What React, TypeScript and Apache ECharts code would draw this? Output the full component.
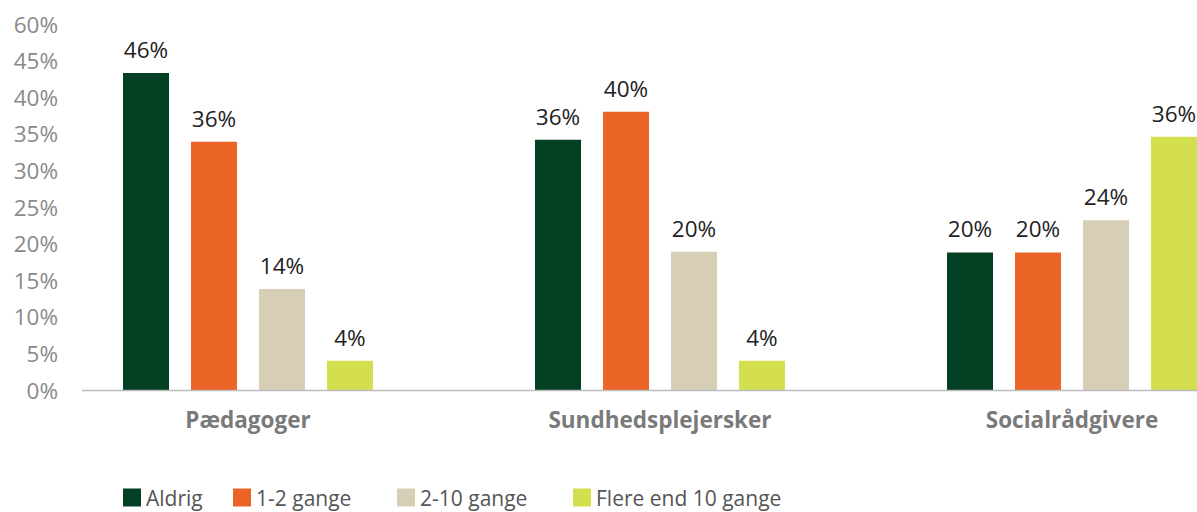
import React, { useEffect, useRef } from "react";
import * as echarts from "echarts";

const categories = ["Pædagoger", "Sundhedsplejersker", "Socialrådgivere"];
const seriesNames = ["Aldrig", "1-2 gange", "2-10 gange", "Flere end 10 gange"];
const colors = ["#033f22", "#e96425", "#d7ceb6", "#d3df4f"];

// bar heights as drawn (percent)
const aldrig = [43.3, 34.2, 18.8];
const enToGange = [33.9, 38.0, 18.8];
const toTiGange = [13.8, 18.9, 23.2];
const flereEnd10 = [4.0, 4.0, 34.6];

// data label texts as printed
const aldrigLabels = ["46%", "36%", "20%"];
const enToLabels = ["36%", "40%", "20%"];
const toTiLabels = ["14%", "20%", "24%"];
const flereLabels = ["4%", "4%", "36%"];

// y-axis tick labels as printed (0..50 step 5)
const yTickLabels = ["0%", "5%", "10%", "15%", "20%", "25%", "30%", "35%", "40%", "45%", "60%"];

const legendLefts = [123, 233, 397, 573];

const FONT = "'Open Sans', 'Noto Sans', sans-serif";

export default function App() {
  const ref = useRef<HTMLDivElement>(null);
  useEffect(() => {
    document.body.style.margin = "0";
    const chart = echarts.init(ref.current!, null, { renderer: "svg" });
    const values = [aldrig, enToGange, toTiGange, flereEnd10];
    const labels = [aldrigLabels, enToLabels, toTiLabels, flereLabels];
    chart.setOption({
      animation: false,
      textStyle: { fontFamily: FONT },
      grid: {
        left: 42,
        top: 24,
        width: 1236,
        height: 366,
        containLabel: false,
        outerBoundsMode: "none",
      },
      legend: seriesNames.map((name, i) => ({
        left: legendLefts[i],
        top: 487,
        padding: 0,
        itemWidth: 18,
        itemHeight: 18,
        icon: "rect",
        textStyle: { fontSize: 21, color: "#555", fontFamily: FONT },
        data: [name],
      })),
      xAxis: {
        type: "category",
        data: categories,
        axisLine: { show: false },
        axisTick: { show: false },
        axisLabel: { fontSize: 22.5, fontWeight: "bold", color: "#7a7a7a", margin: 18, fontFamily: FONT },
      },
      yAxis: {
        type: "value",
        min: 0,
        max: 50,
        interval: 5,
        offset: -24,
        splitLine: { show: false },
        axisLine: { show: false },
        axisTick: { show: false },
        axisLabel: {
          fontSize: 22.5,
          color: "#8a8a8a",
          margin: 8,
          fontFamily: FONT,
          formatter: (v: number) => yTickLabels[Math.round(v / 5)] ?? "",
        },
      },
      graphic: [
        {
          type: "line",
          shape: { x1: 82, y1: 390.5, x2: 1197, y2: 390.5 },
          style: { stroke: "#bdbdbd", lineWidth: 1.5 },
          z: 10,
        },
      ],
      series: seriesNames.map((name, i) => ({
        name,
        type: "bar",
        barWidth: 46,
        barGap: "47.8%",
        itemStyle: { color: colors[i] },
        label: {
          show: true,
          position: "top",
          distance: 12,
          fontSize: 22.5,
          color: "#222",
          fontFamily: FONT,
          formatter: (p: any) => labels[i][p.dataIndex],
        },
        data: values[i],
      })),
    });
    return () => chart.dispose();
  }, []);
  return <div ref={ref} style={{ width: 1197, height: 512 }} />;
}
